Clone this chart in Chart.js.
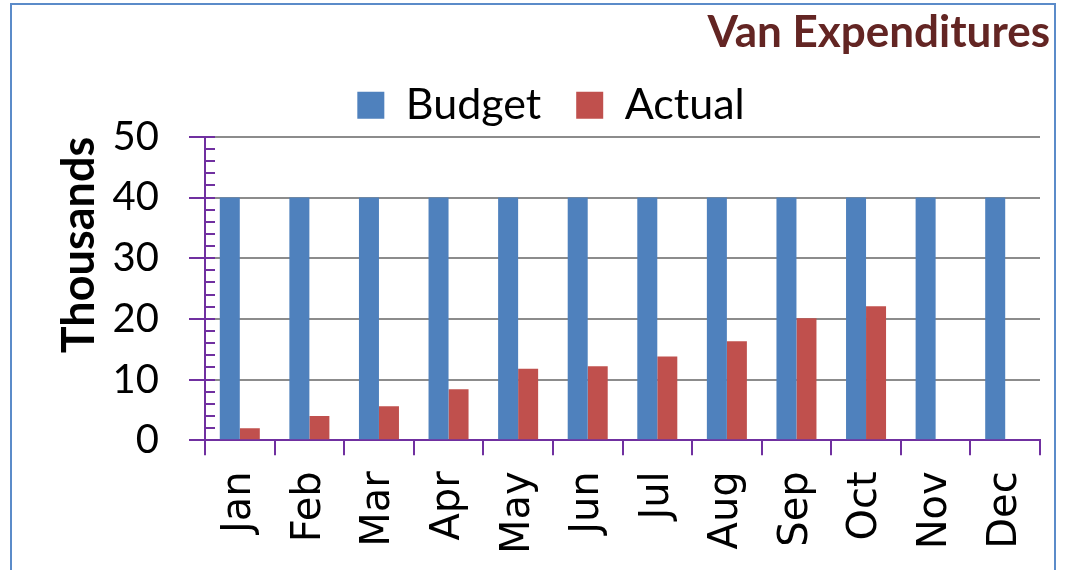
<!DOCTYPE html>
<html>
<head>
<meta charset="utf-8">
<script src="https://cdn.jsdelivr.net/npm/chart.js@4/dist/chart.umd.min.js"></script>
<style>
  body { margin: 0; background: #fff; }
  #wrap { position: relative; width: 1074px; height: 570px; overflow: hidden; }
  #frame { position: absolute; left: 10px; top: 3px; width: 1046px; height: 620px; border: 2px solid #5B8BC9; box-sizing: border-box; }
  #myChart { position: absolute; left: 0; top: 0; }
</style>
</head>
<body>
<div id="wrap">
  <div id="frame"></div>
  <canvas id="myChart" width="1074" height="570"></canvas>
</div>
<script>
// chart data
var months = ['Jan', 'Feb', 'Mar', 'Apr', 'May', 'Jun', 'Jul', 'Aug', 'Sep', 'Oct', 'Nov', 'Dec'];
var budget = [40, 40, 40, 40, 40, 40, 40, 40, 40, 40, 40, 40];
var actual = [2.0, 4.0, 5.6, 8.4, 11.8, 12.2, 13.8, 16.3, 20.1, 22.1, null, null];
var yTicks = [0, 10, 20, 30, 40, 50];

var purple = '#7030A0';

// small inside ticks on the value axis, every 2 units
var minorTicks = {
    id: 'minorTicks',
    afterDraw: function (chart) {
        var y = chart.scales.y;
        var ctx = chart.ctx;
        var x0 = chart.chartArea.left;
        ctx.save();
        ctx.strokeStyle = purple;
        ctx.lineWidth = 2;
        for (var v = yTicks[0]; v <= yTicks[yTicks.length - 1]; v += 2) {
            var py = Math.round(y.getPixelForValue(v));
            ctx.beginPath();
            ctx.moveTo(x0, py);
            ctx.lineTo(x0 + 10, py);
            ctx.stroke();
        }
        ctx.restore();
    }
};

new Chart(document.getElementById('myChart').getContext('2d'), {
    type: 'bar',
    data: {
        labels: months,
        datasets: [
            { label: 'Budget', data: budget, backgroundColor: '#4F81BD', categoryPercentage: 0.575, barPercentage: 1.0 },
            { label: 'Actual', data: actual, backgroundColor: '#C0504D', categoryPercentage: 0.575, barPercentage: 1.0 }
        ]
    },
    options: {
        responsive: false,
        animation: false,
        layout: { padding: { left: 52, right: 24, top: 6, bottom: 0 } },
        plugins: {
            title: {
                display: true,
                text: 'Van Expenditures',
                align: 'end',
                color: '#632523',
                font: { family: 'Lato', size: 44, weight: 'bold' },
                padding: { top: 0, bottom: -10 }
            },
            legend: {
                position: 'top',
                labels: {
                    boxWidth: 27,
                    boxHeight: 27,
                    padding: 35,
                    color: '#000',
                    font: { family: 'Lato', size: 43 }
                }
            },
            tooltip: { enabled: false }
        },
        scales: {
            x: {
                grid: { drawOnChartArea: false, tickLength: 15, tickColor: purple, lineWidth: 2 },
                border: { color: purple, width: 2 },
                ticks: {
                    autoSkip: false,
                    minRotation: 90,
                    maxRotation: 90,
                    padding: 16,
                    color: '#000',
                    font: { family: 'DejaVu Sans', size: 40 }
                }
            },
            y: {
                min: 0,
                max: 50,
                afterBuildTicks: function (axis) {
                    axis.ticks = yTicks.map(function (v) { return { value: v }; });
                },
                afterFit: function (axis) { axis.width = 153; },
                grid: { color: '#8C8C8C', lineWidth: 2, tickLength: 16, tickColor: purple },
                border: { color: purple, width: 2 },
                ticks: {
                    padding: 30,
                    color: '#000',
                    font: { family: 'Lato', size: 40 }
                },
                title: {
                    display: true,
                    text: 'Thousands',
                    align: 'end',
                    color: '#000',
                    font: { family: 'Lato', size: 45, weight: 'bold' },
                    padding: { top: 0, bottom: 10 }
                }
            },
            // empty spacer on the right so the title can sit further right than the plot
            spacer: {
                type: 'linear',
                position: 'right',
                grid: { display: false },
                border: { display: false },
                ticks: { display: false },
                afterFit: function (axis) { axis.width = 10; }
            }
        }
    },
    plugins: [minorTicks]
});
</script>
</body>
</html>
